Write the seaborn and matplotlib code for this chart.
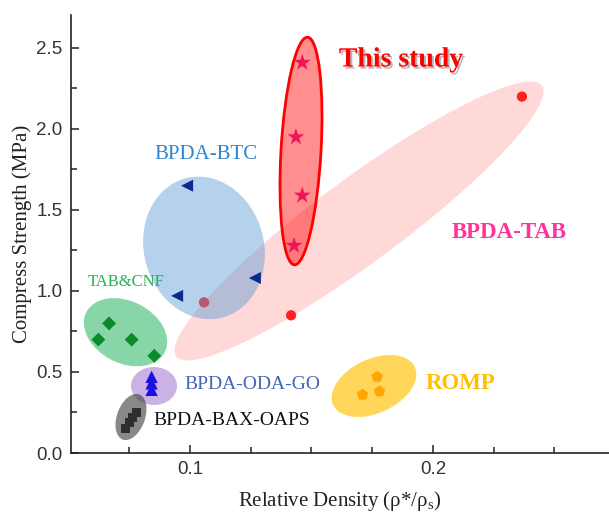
import matplotlib
matplotlib.use("Agg")
import matplotlib.pyplot as plt
import matplotlib.patheffects as pe
from matplotlib.patches import Ellipse
from matplotlib.transforms import ScaledTranslation
from matplotlib.ticker import MultipleLocator
import numpy as np
import pandas as pd
import seaborn as sns

# ---- data: relative density vs. compressive strength ----
this_x = [0.1462, 0.1436, 0.1462, 0.1428]
this_y = [2.41, 1.95, 1.59, 1.28]

tab_x = [0.2366, 0.1416, 0.1058]
tab_y = [2.20, 0.85, 0.93]

btc_x = [0.0988, 0.1267, 0.0947]
btc_y = [1.65, 1.08, 0.97]

cnf_x = [0.0623, 0.0667, 0.0760, 0.0853]
cnf_y = [0.70, 0.80, 0.70, 0.60]

odago_x = [0.0842, 0.0842, 0.0842]
odago_y = [0.47, 0.43, 0.39]

oaps_x = [0.0735, 0.0750, 0.0765, 0.0780]
oaps_y = [0.15, 0.19, 0.22, 0.25]

romp_x = [0.1770, 0.1710, 0.1780]
romp_y = [0.47, 0.36, 0.38]

sns.set_theme(style="ticks")
plt.rcParams["font.family"] = ["Liberation Serif", "DejaVu Serif"]
plt.rcParams["mathtext.fontset"] = "custom"
plt.rcParams["mathtext.rm"] = "Liberation Serif"
plt.rcParams["mathtext.it"] = "Liberation Serif:italic"

fig = plt.figure(figsize=(6.09, 5.17), dpi=100)
ax = fig.add_axes([71 / 609, 64 / 517, 538 / 609, 438 / 517])
ax.set_xlim(0.05103, 0.27243)
ax.set_ylim(0, 2.7037)


def blob(cx, cy, w_px, h_px, angle, face, alpha, edge="none", lw=0, z=1):
    """Ellipse centred on a data point, sized in screen pixels."""
    tr = fig.dpi_scale_trans + ScaledTranslation(cx, cy, ax.transData)
    e = Ellipse((0, 0), w_px / 100, h_px / 100, angle=angle, transform=tr,
                facecolor=face, alpha=alpha, edgecolor="none", zorder=z)
    ax.add_patch(e)
    if edge != "none":
        e2 = Ellipse((0, 0), w_px / 100, h_px / 100, angle=angle, transform=tr,
                     facecolor="none", edgecolor=edge, lw=lw, zorder=z + 0.01)
        ax.add_patch(e2)


def points(x, y, marker, color, s, z):
    df = pd.DataFrame({"x": x, "y": y})
    sns.scatterplot(data=df, x="x", y="y", marker=marker, color=color, s=s,
                    edgecolor="none", linewidth=0, ax=ax, zorder=z, legend=False)


# BPDA-TAB band and its points (underneath the BTC region)
blob(0.16955, 1.432, 455, 84, 36.5, "#FF8080", 0.30, z=1)
points(tab_x, tab_y, "o", "#FF2222", 55, 2)

# BPDA-BTC region
blob(0.10576, 1.266, 144, 120, 105, "#5B9BD5", 0.45, z=3)

# This study region
blob(0.14568, 1.864, 228, 40, 86.7, "#FF0000", 0.44, edge="#FF0000", lw=2.0, z=4)

# small regions
blob(0.07346, 0.7457, 88, 62, -27, "#27B35F", 0.55, z=3)
blob(0.08519, 0.4136, 46, 38, 0, "#9966CC", 0.50, z=3)
blob(0.07572, 0.2222, 48, 28, 70, "#404040", 0.62, z=3)
blob(0.17572, 0.4136, 90, 54, 25, "#FFC000", 0.65, z=3)

points(this_x, this_y, "*", "#F0145A", 165, 6)
points(btc_x, btc_y, "<", "#0A2A8C", 75, 6)
points(cnf_x, cnf_y, "D", "#0A8A2A", 50, 6)
points(odago_x, odago_y, "^", "#1A10E0", 80, 6)
points(oaps_x, oaps_y, "s", "#2E2E2E", 40, 6)
points(romp_x, romp_y, "p", "#FFA500", 75, 6)

# group labels
ax.text(0.1868, 2.426, "This study", color="#FF0000", fontsize=20,
        fontweight="bold", ha="center", va="center", zorder=8,
        path_effects=[pe.withSimplePatchShadow(offset=(1.5, -1.5),
                                               shadow_rgbFace="#888888", alpha=0.6)])
ax.text(0.2313, 1.364, "BPDA-TAB", color="#FF3399", fontsize=16.5,
        fontweight="bold", ha="center", va="center", zorder=8)
ax.text(0.2115, 0.432, "ROMP", color="#FFC000", fontsize=16.5,
        fontweight="bold", ha="center", va="center", zorder=8)
ax.text(0.1066, 1.84, "BPDA-BTC", color="#2E86D0", fontsize=15,
        ha="center", va="center", zorder=8)
ax.text(0.0737, 1.056, "TAB&CNF", color="#22B455", fontsize=12,
        ha="center", va="center", zorder=8)
ax.text(0.1255, 0.42, "BPDA-ODA-GO", color="#4466B8", fontsize=14,
        ha="center", va="center", zorder=8)
ax.text(0.1173, 0.198, "BPDA-BAX-OAPS", color="#111111", fontsize=14,
        ha="center", va="center", zorder=8)

# axes styling
sns.despine(ax=ax)
for sp in ("left", "bottom"):
    ax.spines[sp].set_linewidth(1.2)
    ax.spines[sp].set_color("#222222")
ax.xaxis.set_major_locator(MultipleLocator(0.1))
ax.xaxis.set_minor_locator(MultipleLocator(0.025))
ax.yaxis.set_major_locator(MultipleLocator(0.5))
ax.yaxis.set_minor_locator(MultipleLocator(0.25))
ax.tick_params(which="major", direction="in", length=6, width=1.1, color="#222222",
               labelsize=13.5, labelcolor="#333333", pad=6)
ax.tick_params(which="minor", direction="in", length=4, width=1.1, color="#222222")
ax.set_xticks(ax.get_xticks())
ax.set_yticks(ax.get_yticks())
ax.set_xticklabels(["%.1f" % v for v in ax.get_xticks()])
ax.set_yticklabels(["%.1f" % v for v in ax.get_yticks()])
for lab in ax.get_xticklabels() + ax.get_yticklabels():
    lab.set_fontfamily("Liberation Sans")
ax.set_xlim(0.05103, 0.27243)
ax.set_ylim(0, 2.7037)
ax.grid(False)

ax.set_xlabel(r"Relative Density (ρ*/ρ$_\mathrm{s}$)", fontsize=15, color="#222222",
              labelpad=8)
ax.set_ylabel("Compress Strength (MPa)", fontsize=15, color="#222222", labelpad=3)

fig.savefig("out.png", dpi=100)
